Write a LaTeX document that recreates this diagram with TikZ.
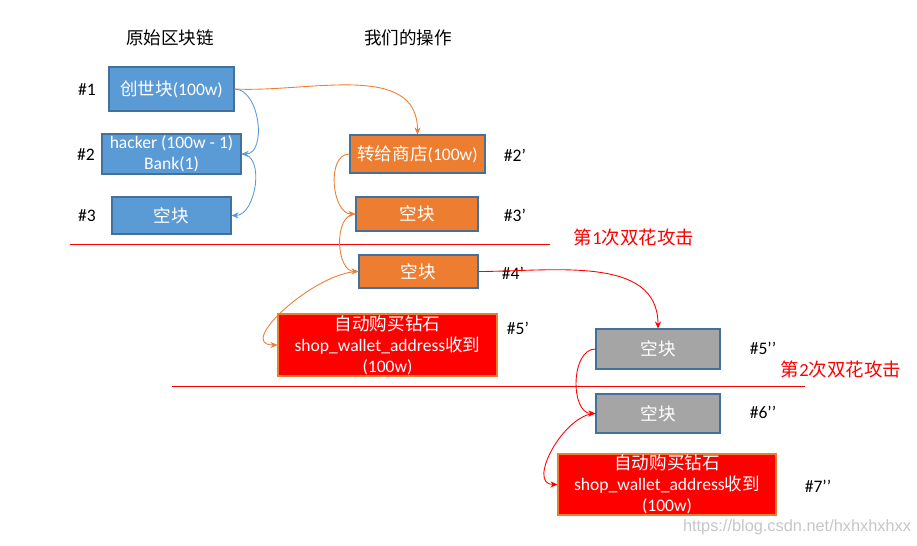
\documentclass[tikz,border=0pt]{standalone}
\usepackage{fontspec}
\setmainfont{Carlito}
\newfontfamily\cjk{Noto Sans CJK SC}
\newfontfamily\wmfont{Liberation Sans}
\usetikzlibrary{arrows.meta}
\definecolor{bblue}{HTML}{5B9BD5}
\definecolor{bline}{HTML}{41719C}
\definecolor{oorange}{HTML}{ED7D31}
\definecolor{ggray}{HTML}{A5A5A5}
\definecolor{rred}{HTML}{FF0000}

\begin{document}
\begin{tikzpicture}[x=0.02cm, y=-0.02cm, font=\fontsize{10}{12}\selectfont,
  box/.style={draw=bline, text=white, align=center, inner sep=0pt, line width=0.6pt},
  arrow/.style={-{Stealth[length=4pt, width=3.5pt]}, line width=0.5pt},
  attack/.style={rred, line width=0.5pt}]
\useasboundingbox (0,0) rectangle (917,546);
\node (h1) at (170,38) {\cjk 原始区块链};
\node (h2) at (408,38) {\cjk 我们的操作};
\node[box, fill=bblue, minimum width=2.5cm, minimum height=0.88cm] (b1) at (171.5,89) {{\cjk 创世块}(100w)};
\node[box, fill=bblue, minimum width=2.78cm, minimum height=0.8cm] (b2) at (171.5,154) {hacker (100w - 1)\\Bank(1)};
\node[box, fill=bblue, minimum width=2.38cm, minimum height=0.74cm] (b3) at (171.5,215.5) {\cjk 空块};
\node (l1) at (87,90) {\#1};
\node (l2) at (86,155) {\#2};
\node (l3) at (87,216) {\#3};
\node[box, fill=oorange, minimum width=2.7cm, minimum height=0.76cm] (o2) at (417.5,154) {{\cjk 转给商店}(100w)};
\node[box, fill=oorange, minimum width=2.44cm, minimum height=0.68cm] (o3) at (417,214) {\cjk 空块};
\node[box, fill=oorange, minimum width=2.38cm, minimum height=0.66cm] (o4) at (418.5,271.5) {\cjk 空块};
\node[box, fill=rred, draw=oorange, minimum width=4.38cm, minimum height=1.24cm] (r5) at (387.5,345) {{\cjk 自动购买钻石}\\shop\_wallet\_address{\cjk 收到}\\(100w)};
\node (l2p) at (515,155) {\#2’};
\node (l3p) at (515,215) {\#3’};
\node (l4p) at (513,273) {\#4’};
\node (l5p) at (518,328) {\#5’};
\node[box, fill=ggray, minimum width=2.48cm, minimum height=0.8cm] (g5) at (658,349) {\cjk 空块};
\node[box, fill=ggray, minimum width=2.48cm, minimum height=0.78cm] (g6) at (658,413.5) {\cjk 空块};
\node[box, fill=rred, draw=oorange, minimum width=4.36cm, minimum height=1.22cm] (r7) at (667,484.5) {{\cjk 自动购买钻石}\\shop\_wallet\_address{\cjk 收到}\\(100w)};
\node (l5pp) at (763,348) {\#5’’};
\node (l6pp) at (763,412) {\#6’’};
\node (l7pp) at (818,486) {\#7’’};
\draw[attack] (70,244) -- (550,244);
\node[text=rred, font=\fontsize{10.5}{12}\selectfont] (a1) at (634,237) {{\cjk 第}1{\cjk 次双花攻击}};
\draw[attack] (172,386) -- (805,386);
\node[text=rred, font=\fontsize{10.5}{12}\selectfont] (a2) at (841,369) {{\cjk 第}2{\cjk 次双花攻击}};
\node[text=gray!45, font=\wmfont\fontsize{9.3}{11}\selectfont] (wm) at (797,527) {https://blog.csdn.net/hxhxhxhxx};
\draw[arrow, bblue] (b1.east) to[out=0, in=0] (b2.east);
\draw[arrow, bblue] (b2.east) to[out=0, in=0] (b3.east);
\draw[arrow, oorange] (b1.east) to[out=-3, in=90] (o2.north);
\draw[arrow, oorange] (o2.west) to[out=180, in=180] (o3.west);
\draw[arrow, oorange] (o3.west) to[out=180, in=180] (o4.west);
\draw[arrow, oorange] (o4.west) to[out=180, in=180] (r5.west);
\draw[arrow, rred] (o4.east) to[out=0, in=90] (g5.north);
\draw[arrow, rred] (g5.west) to[out=180, in=180] (g6.west);
\draw[arrow, rred] (g6.west) to[out=180, in=180] (r7.west);
\end{tikzpicture}
\end{document}
